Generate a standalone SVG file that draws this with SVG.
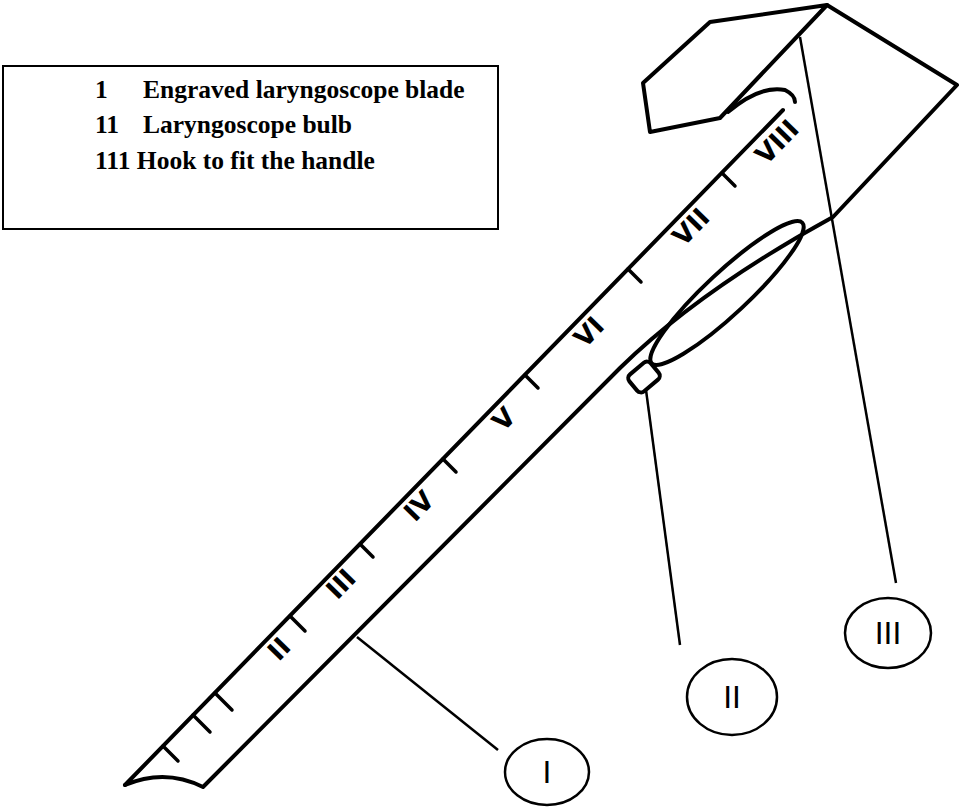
<svg xmlns="http://www.w3.org/2000/svg" width="969" height="809" viewBox="0 0 969 809">
<style>
.s{fill:none;stroke:#000;stroke-width:4;stroke-linejoin:round;stroke-linecap:round}
.l{fill:none;stroke:#000;stroke-width:2.5}
.t{stroke:#000;stroke-width:3.5;stroke-linecap:round}
.lg{font-family:"Liberation Serif",serif;font-weight:bold;font-size:25.5px}
.n{font-family:"DejaVu Sans",sans-serif;font-weight:bold;font-size:26px;text-anchor:middle;dominant-baseline:middle}
.c{font-family:"DejaVu Sans",sans-serif;font-size:30px;text-anchor:middle;dominant-baseline:central}
</style>
<rect width="969" height="809" fill="#fff"/>
<g id="legend">
<rect x="3" y="66" width="495" height="163" fill="none" stroke="#000" stroke-width="2"/>
<text class="lg" x="95" y="98">1</text><text class="lg" x="143" y="98">Engraved laryngoscope blade</text>
<text class="lg" x="95" y="133">11</text><text class="lg" x="143" y="133">Laryngoscope bulb</text>
<text class="lg" x="95" y="169">111 Hook to fit the handle</text>
</g>
<g id="blade">
<path class="s" d="M125,785 L783,110"/>
<path class="s" d="M125,785 Q165,768 203,787 L620,368 Q700,290 833,217 L957,85 L827,5"/>
<path class="s" d="M827,5 L710,22 L643,83 L650,132 L720,118 Z"/>
<path class="s" d="M728,112 Q760,85 785,90 Q795,95 795,102"/>
<g class="t">
<line x1="163" y1="746" x2="178" y2="761"/>
<line x1="193" y1="715" x2="210" y2="732"/>
<line x1="215" y1="693" x2="232" y2="710"/>
<line x1="290" y1="616" x2="305" y2="631"/>
<line x1="360" y1="544" x2="373" y2="557"/>
<line x1="443" y1="459" x2="456" y2="472"/>
<line x1="525" y1="375" x2="538" y2="388"/>
<line x1="628" y1="269" x2="641" y2="282"/>
<line x1="722" y1="173" x2="735" y2="186"/>
</g>
<text class="n" transform="translate(280,650) rotate(-45.8)">II</text>
<text class="n" transform="translate(342,585) rotate(-45.8)">III</text>
<text class="n" transform="translate(420,507) rotate(-45.8)">IV</text>
<text class="n" transform="translate(505,420) rotate(-45.8)">V</text>
<text class="n" transform="translate(590,333) rotate(-45.8)">VI</text>
<text class="n" transform="translate(692,228) rotate(-45.8)">VII</text>
<text class="n" transform="translate(778,143) rotate(-45.8)">VIII</text>
</g>
<g id="bulb">
<ellipse cx="727" cy="293" rx="103" ry="21" transform="rotate(-43 727 293)" class="s" stroke-width="3.5"/>
<rect x="630" y="366" width="28" height="22" rx="5" transform="rotate(-40 644 377)" class="s" stroke-width="3"/>
</g>
<g id="connectors">
<line class="l" x1="800" y1="37" x2="896" y2="583"/>
<line class="l" x1="646" y1="390" x2="680" y2="645"/>
<line class="l" x1="357" y1="637" x2="498" y2="750"/>
</g>
<g id="label-I"><ellipse cx="547" cy="772" rx="42" ry="33" class="l" stroke-width="3"/><text class="c" x="547" y="772">I</text></g>
<g id="label-II"><ellipse cx="732" cy="697" rx="45" ry="38" class="l" stroke-width="3"/><text class="c" x="732" y="697">II</text></g>
<g id="label-III"><ellipse cx="888" cy="633" rx="43" ry="35" class="l" stroke-width="3"/><text class="c" x="888" y="633">III</text></g>
</svg>
